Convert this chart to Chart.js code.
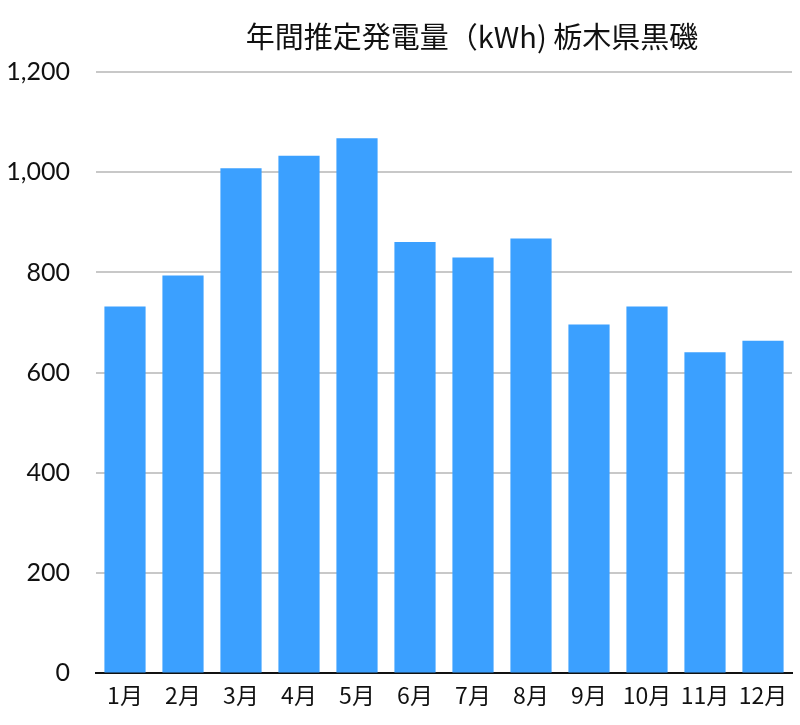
<!DOCTYPE html>
<html>
<head>
<meta charset="utf-8">
<script src="https://cdn.jsdelivr.net/npm/chart.js@4"></script>
<style>
  html, body { margin: 0; padding: 0; background: #fff; }
  #wrap { position: relative; width: 800px; height: 725px; }
  #title {
    position: absolute; left: 0; top: 13px; width: 944px;
    text-align: center; font-family: "Noto Sans CJK JP", sans-serif;
    font-size: 29px; color: #111; line-height: 44px;
  }
</style>
</head>
<body>
<div id="wrap">
  <canvas id="chart" width="800" height="725"></canvas>
  <div id="title">年間推定発電量（kWh) 栃木県黒磯</div>
</div>
<script>
const months = ['1月', '2月', '3月', '4月', '5月', '6月', '7月', '8月', '9月', '10月', '11月', '12月'];
const kwh = [732, 794, 1008, 1033, 1068, 861, 830, 868, 696, 732, 641, 664];
const yTicks = [0, 200, 400, 600, 800, 1000, 1200];

const fontFamily = 'Lato, "Noto Sans CJK JP", sans-serif';

new Chart(document.getElementById('chart'), {
  type: 'bar',
  data: {
    labels: months,
    datasets: [{
      data: kwh,
      backgroundColor: '#3ba0ff',
      borderWidth: 0,
      barPercentage: 0.71,
      categoryPercentage: 1.0
    }]
  },
  options: {
    responsive: false,
    animation: false,
    layout: { padding: { top: 72, right: 8, bottom: 8, left: 0 } },
    plugins: {
      legend: { display: false },
      title: { display: false },
      tooltip: { enabled: false }
    },
    scales: {
      x: {
        grid: { display: false, drawTicks: false },
        border: { display: true, color: '#111', width: 2 },
        ticks: {
          color: '#111',
          padding: 8,
          maxRotation: 0,
          autoSkip: false,
          font: { family: '"Noto Sans CJK JP", sans-serif', size: 23 }
        }
      },
      y: {
        min: 0,
        max: 1200,
        afterBuildTicks: function(axis) {
          axis.ticks = yTicks.map(function(v) { return { value: v }; });
        },
        afterFit: function(axis) { axis.width = 96; },
        grid: { color: '#c8c8c8', lineWidth: 2, drawTicks: false },
        border: { display: false },
        ticks: {
          color: '#111',
          padding: 26,
          font: { family: fontFamily, size: 25 },
          callback: function(v) { return v.toLocaleString('en-US'); }
        }
      }
    }
  }
});
</script>
</body>
</html>
